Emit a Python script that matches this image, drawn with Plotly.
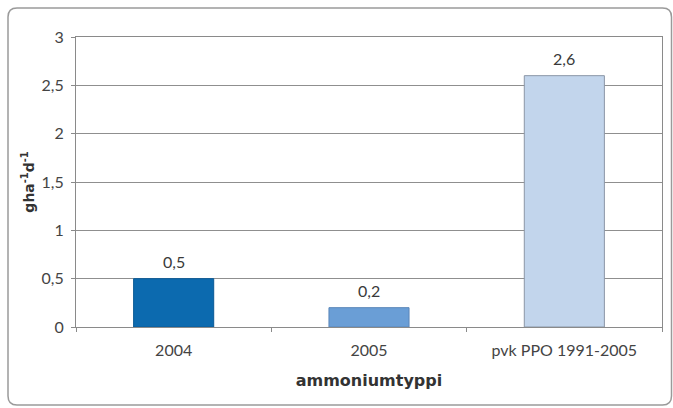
import plotly.graph_objects as go

categories = ["2004", "2005", "pvk PPO 1991-2005"]
values = [0.5, 0.2, 2.6]
bar_colors = ["#0C6AAF", "#6A9ED6", "#C2D5EC"]
line_colors = ["#0A5A96", "#5A86B8", "#8A96A6"]
y_ticks = [0, 0.5, 1, 1.5, 2, 2.5, 3]

W, H = 673, 408
L, R, T, B = 76, 11, 37, 81
pw, ph = W - L - R, H - T - B

fig = go.Figure(go.Bar(
    x=categories, y=values,
    marker=dict(color=bar_colors, line=dict(color=line_colors, width=1)),
    width=0.41,
))

# value labels; on a category axis annotations use the category index
for i, v in enumerate(values):
    fig.add_annotation(x=i, y=v, xref="x", yref="y",
                       text=f"{v:.1f}".replace(".", ","),
                       showarrow=False, yanchor="bottom", yshift=6,
                       font=dict(size=16, color="#3a3a3a"))

# rounded outer frame (pixel -> paper)
def px(x): return (x - L) / pw
def py(y): return (H - B - y) / ph
x0, x1, y0, y1 = 8, 671.5, 8, 405
rx, ry = 9 / pw, 9 / ph
X0, X1, Y0, Y1 = px(x0), px(x1), py(y0), py(y1)
path = (f"M {X0+rx},{Y0} L {X1-rx},{Y0} Q {X1},{Y0} {X1},{Y0-ry} "
        f"L {X1},{Y1+ry} Q {X1},{Y1} {X1-rx},{Y1} L {X0+rx},{Y1} "
        f"Q {X0},{Y1} {X0},{Y1+ry} L {X0},{Y0-ry} Q {X0},{Y0} {X0+rx},{Y0} Z")
fig.add_shape(type="path", path=path, xref="paper", yref="paper",
              line=dict(color="#9a9a9a", width=1.5), layer="below")

fig.update_layout(
    width=W, height=H,
    margin=dict(l=L, r=R, t=T, b=B, autoexpand=False),
    paper_bgcolor="white", plot_bgcolor="white",
    separators=", ",
    font=dict(family="Lato, Open Sans, sans-serif", size=16, color="#444444"),
    showlegend=False,
    xaxis=dict(
        type="category",
        range=[-0.5, len(categories) - 0.5],
        automargin=False,
        showline=True, linecolor="#8a8a8a", linewidth=1, mirror=True,
        ticks="outside", tickson="boundaries", ticklen=4, tickcolor="#8a8a8a",
        ticklabelstandoff=9, tickangle=0,
        title=dict(text="<b>ammoniumtyppi</b>",
                   font=dict(family="DejaVu Sans", size=16, color="#333333"), standoff=16),
        tickfont=dict(size=16, color="#444444"),
    ),
    yaxis=dict(
        automargin=False,
        range=[0, 3], tickvals=y_ticks,
        showgrid=True, gridcolor="#8f8f8f", gridwidth=1,
        showline=True, linecolor="#8a8a8a", linewidth=1, mirror=True,
        ticks="outside", ticklen=4, tickcolor="#8a8a8a",
        ticklabelstandoff=4,
        zeroline=False,
        title=dict(text="<b>gha<sup>-1</sup>d<sup>-1</sup></b>",
                   font=dict(family="DejaVu Sans", size=14, color="#333333"), standoff=3),
        tickfont=dict(size=16, color="#444444"),
    ),
)

fig.write_html("out.html", config={"displayModeBar": False},
               post_script="document.body.style.margin='0';")
